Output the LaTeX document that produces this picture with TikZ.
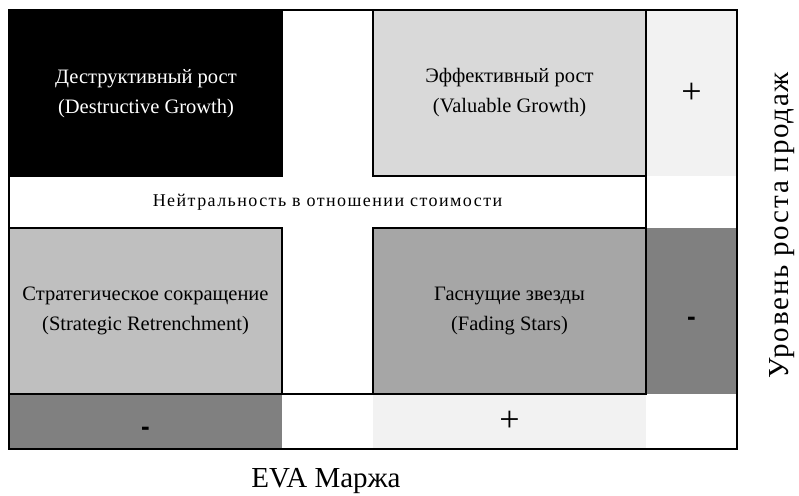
\documentclass[tikz,border=0pt]{standalone}
\usepackage{fontspec}
\setmainfont{Liberation Serif}
\newfontfamily\signfont{Liberation Sans}
\newfontfamily\spacedfont[LetterSpace=8]{Liberation Serif}
\newfontfamily\axisfont[LetterSpace=6]{Liberation Serif}
\usetikzlibrary{positioning}
\definecolor{lightcell}{HTML}{F2F2F2}
\definecolor{paler}{HTML}{D9D9D9}
\definecolor{midcell}{HTML}{BFBFBF}
\definecolor{darkcell}{HTML}{A6A6A6}
\definecolor{signcell}{HTML}{808080}
\newcommand{\lowminus}{\raisebox{-14pt}[0pt][0pt]{-}}
\begin{document}
\begin{tikzpicture}[x=1pt,y=-1pt,
cell/.style={inner sep=0pt,outer sep=0pt,anchor=north west,align=center,font=\fontsize{20.5}{30}\selectfont},
edge/.style={draw=black,line width=2pt},
plussign/.style={font=\fontsize{36}{36}\selectfont},
minussign/.style={font=\signfont\bfseries\fontsize{26}{26}\selectfont},
axis/.style={font=\fontsize{29}{29}\selectfont}
]
\useasboundingbox (0,0) rectangle (799,495);
% sign columns and rows
\node[cell,fill=lightcell,minimum width=91pt,minimum height=166pt,plussign] (plusR) at (646,10) {+};
\node[cell,fill=signcell,minimum width=91pt,minimum height=166pt,minussign] (minusR) at (646,228) {\lowminus};
\node[cell,fill=signcell,minimum width=273pt,minimum height=55pt,minussign] (minusB) at (9,394) {\lowminus};
\node[cell,fill=lightcell,minimum width=273pt,minimum height=55pt,plussign] (plusB) at (373,394) {+};
% quadrants
\node[cell,fill=black,text=white,minimum width=274pt,minimum height=167pt] (destr) at (9,10) {Деструктивный рост\\(Destructive Growth)};
\node[cell,fill=paler,edge,minimum width=273pt,minimum height=166pt] (valu) at (373,10) {Эффективный рост\\(Valuable Growth)};
\node[cell,minimum width=637pt,minimum height=51pt,font=\spacedfont\fontsize{18}{18}\selectfont] (neutral) at (9,177) {Нейтральность в отношении стоимости};
\node[cell,fill=midcell,edge,minimum width=273pt,minimum height=166pt] (strat) at (9,228) {Стратегическое сокращение\\(Strategic Retrenchment)};
\node[cell,fill=darkcell,edge,minimum width=273pt,minimum height=166pt] (fade) at (373,228) {Гаснущие звезды\\(Fading Stars)};
\draw[edge] (valu.south east) -- (fade.north east);
\draw[edge] (strat.south east) -- (fade.south west);
% frame
\draw[black,line width=2.5pt] (9,10) rectangle (737,449);
% axis labels
\node[axis] (xlab) at (326,481) {EVA Маржа};
\node[axis,rotate=90,font=\axisfont\fontsize{29}{29}\selectfont] (ylab) at (782,225) {Уровень роста продаж};
\end{tikzpicture}
\end{document}
